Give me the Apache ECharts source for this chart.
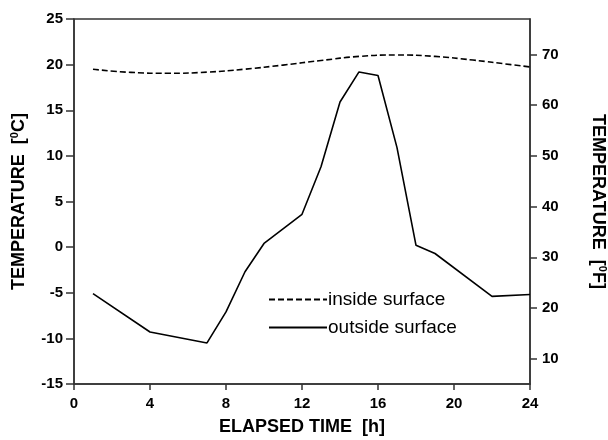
<!DOCTYPE html>
<html><head><meta charset="utf-8">
<script src="https://cdn.jsdelivr.net/npm/echarts@6/dist/echarts.min.js"></script>
<style>html,body{margin:0;padding:0;background:#fff}#c{width:608px;height:440px}</style>
</head><body><div id="c"></div>
<script>
var outsideHours = [1, 4, 7, 8, 9, 10, 11, 12, 13, 14, 15, 16, 17, 18, 19, 22, 24];
var outsideTemps = [-5.1, -9.3, -10.5, -7.1, -2.7, 0.4, 2.0, 3.6, 8.8, 15.9, 19.2, 18.8, 10.9, 0.2, -0.7, -5.4, -5.2];
var insideHours = [1, 3, 5, 7, 9, 11, 13, 15, 17, 19, 21, 23, 24];
var insideTemps = [19.5, 19.15, 19.05, 19.18, 19.5, 19.95, 20.45, 20.9, 21.05, 20.9, 20.5, 20.0, 19.75];
var xTicks = [0, 4, 8, 12, 16, 20, 24];
var fTicks = [10, 20, 30, 40, 50, 60, 70];
var seriesNames = ['inside surface', 'outside surface'];

function pairs(xs, ys){ return xs.map(function(x,i){ return [x, ys[i]]; }); }

var FONT = '"Liberation Sans", Arial, sans-serif';
var AX = '#333';
var nameRich = {
  a: {fontFamily: FONT, fontSize: 18, fontWeight: 'bold', color: '#000'},
  s: {fontFamily: FONT, fontSize: 11, fontWeight: 'bold', color: '#000', padding: [0,0,9,0]}
};
var tickLabel = {fontFamily: FONT, fontSize: 15, fontWeight: 'bold', color: '#000'};
var chart = echarts.init(document.getElementById('c'), null, {renderer:'canvas'});
chart.setOption({
  animation: false,
  backgroundColor: '#fff',
  textStyle: {fontFamily: FONT},
  grid: {left: 74, right: 78, top: 19, bottom: 56, containLabel: false, outerBoundsMode: 'none',
    show: true, borderColor: AX, borderWidth: 1.5, backgroundColor: 'transparent'},
  legend: {
    orient: 'vertical', left: 263, top: 285, itemWidth: 58, itemHeight: 14, itemGap: 9,
    itemStyle: {color: 'transparent', borderColor: 'transparent', borderWidth: 0},
    textStyle: {fontFamily: FONT, fontSize: 19, color: '#000', padding: [0,0,0,-4]},
    data: seriesNames
  },
  xAxis: {
    type: 'value', min: 0, max: 24, interval: 4,
    name: 'ELAPSED TIME  [h]', nameLocation: 'middle', nameGap: 34,
    nameTextStyle: {fontFamily: FONT, fontSize: 18, fontWeight: 'bold', color: '#000'},
    axisLine: {show: true, onZero: false, lineStyle: {color: AX, width: 1.5}},
    axisTick: {show: true, inside: false, length: 6, lineStyle: {color: AX, width: 1.5}},
    axisLabel: Object.assign({margin: 12, customValues: xTicks}, tickLabel),
    splitLine: {show: false}
  },
  yAxis: [{
    type: 'value', min: -15, max: 25, interval: 5, position: 'left',
    name: '{a|TEMPERATURE  [}{s|0}{a|C]}', nameLocation: 'middle', nameGap: 45,
    nameTextStyle: {rich: nameRich},
    axisLine: {show: true, onZero: false, lineStyle: {color: AX, width: 1.5}},
    axisTick: {show: true, inside: false, length: 8, lineStyle: {color: AX, width: 1.5}},
    axisLabel: Object.assign({margin: 11}, tickLabel),
    splitLine: {show: false}
  }, {
    type: 'value', min: -15*1.8+32, max: 25*1.8+32, position: 'right',
    name: '{a|TEMPERATURE  [}{s|0}{a|F]}', nameLocation: 'middle', nameGap: 58, nameRotate: -90,
    nameTextStyle: {rich: nameRich},
    axisLine: {show: true, onZero: false, lineStyle: {color: AX, width: 1.5}},
    axisTick: {show: true, inside: false, length: 7, customValues: fTicks, lineStyle: {color: AX, width: 1.5}},
    axisLabel: Object.assign({margin: 12, customValues: fTicks}, tickLabel),
    splitLine: {show: false}
  }],
  series: [{
    name: seriesNames[0], type: 'line', yAxisIndex: 0, smooth: true, symbol: 'none',
    data: pairs(insideHours, insideTemps),
    lineStyle: {color: '#000', width: 1.6, type: [6, 3]},
    itemStyle: {color: '#000'}
  }, {
    name: seriesNames[1], type: 'line', yAxisIndex: 0, symbol: 'none',
    data: pairs(outsideHours, outsideTemps),
    lineStyle: {color: '#000', width: 1.6},
    itemStyle: {color: '#000'}
  }]
});
</script></body></html>
